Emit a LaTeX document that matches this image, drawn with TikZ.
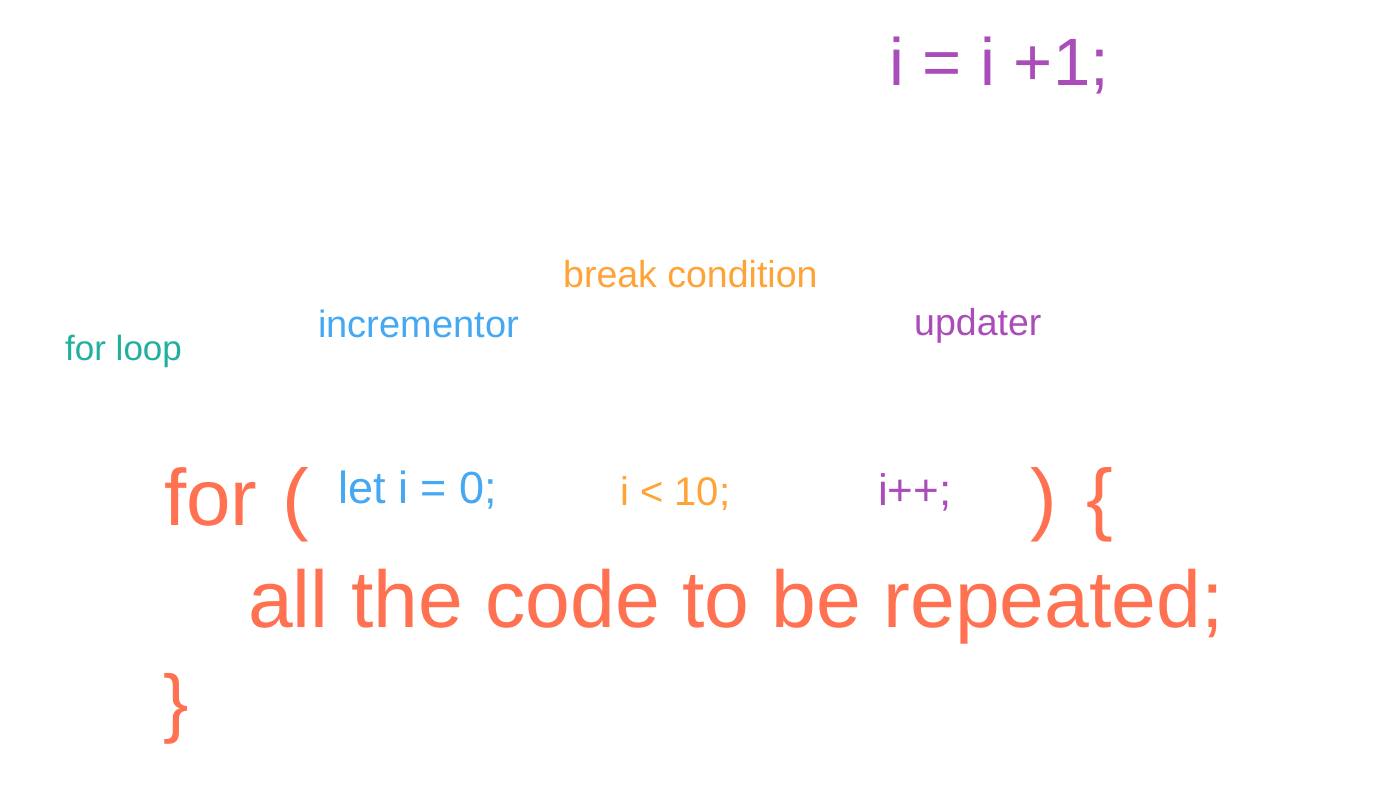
\documentclass[tikz,border=0pt]{standalone}
\usepackage{fontspec}
\setmainfont{Liberation Sans}
\definecolor{loopred}{HTML}{FF7150}
\definecolor{updpurple}{HTML}{AA4CBA}
\definecolor{incblue}{HTML}{46A8F2}
\definecolor{condorange}{HTML}{FFA336}
\definecolor{forteal}{HTML}{22B09E}

\begin{document}
\begin{tikzpicture}[x=1pt, y=-1pt, every node/.style={inner sep=0pt, anchor=base west},
	fs/.style={font=\fontsize{#1}{#1}\selectfont}]
	\useasboundingbox (0,0) rectangle (1376,805);
	% Nhãn chú thích
	\node[fs=67, text=updpurple] (update) at (889, 86) {i = i +1;};
	\node[fs=37.5, text=condorange] (breakcond) at (563, 287) {break condition};
	\node[fs=38, text=incblue] (incr) at (318, 337) {incrementor};
	\node[fs=35, text=forteal] (forloop) at (65, 360) {for loop};
	\node[fs=37.5, text=updpurple] (updater) at (914, 335) {updater};
	% Vòng lặp for
	\node[fs=80, text=loopred] (forkw) at (164, 525) {for};
	\node[fs=80, text=loopred] (openparen) at (282, 525) {(};
	\node[fs=45, text=incblue] (init) at (338, 503) {let i = 0;};
	\node[fs=40, text=condorange] (cond) at (620, 505) {i < 10;};
	\node[fs=44, text=updpurple] (incstep) at (878, 505) {i++;};
	\node[fs=80, text=loopred] (closeparen) at (1030, 525) {)};
	\node[fs=80, text=loopred] (openbrace) at (1086, 525) {\{};
	\node[fs=80.5, text=loopred] (body) at (248, 627) {all the code to be repeated;};
	\node[fs=76, text=loopred] (closebrace) at (163, 728) {\}};
\end{tikzpicture}
\end{document}
